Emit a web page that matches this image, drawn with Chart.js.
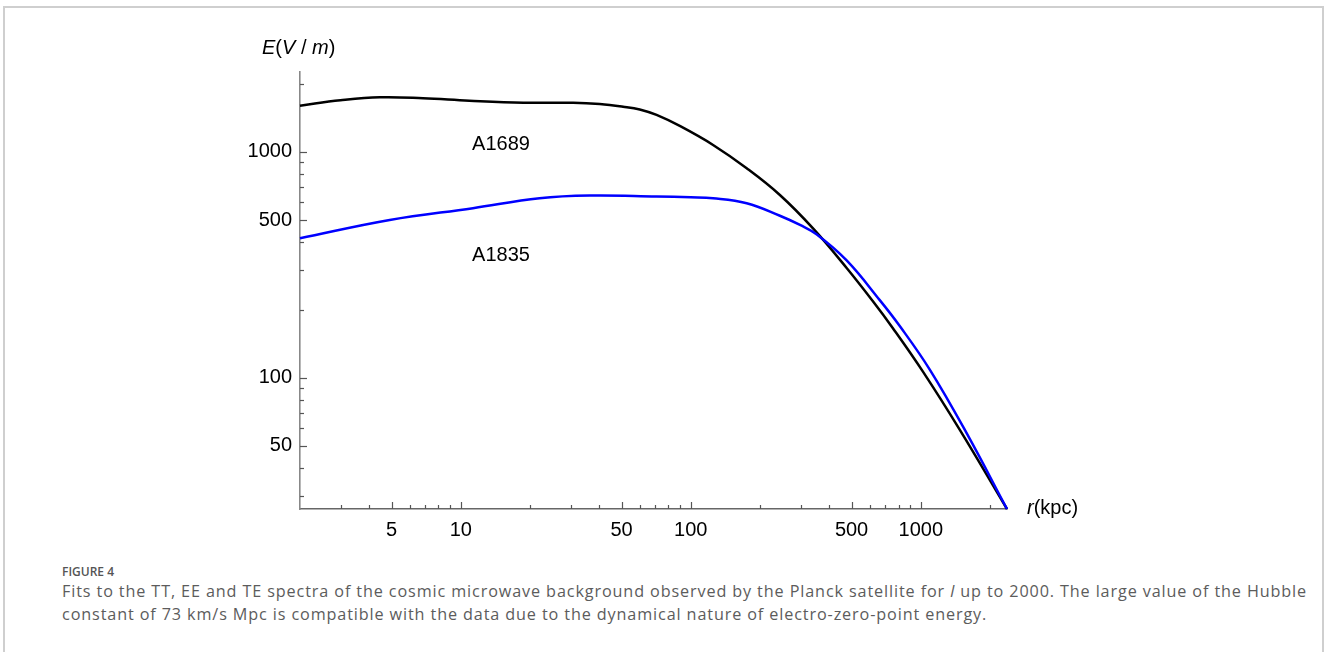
<!DOCTYPE html>
<html>
<head>
<meta charset="utf-8">
<script src="https://cdn.jsdelivr.net/npm/chart.js@4.4.0/dist/chart.umd.min.js"></script>
<style>
  html, body { margin: 0; padding: 0; background: #fff; width: 1327px; height: 652px; overflow: hidden; }
  #frame { position: absolute; left: 3px; top: 6px; width: 1321px; height: 700px; border: 2px solid #cfcfcf; border-bottom: none; box-sizing: border-box; }
  #wrap { position: absolute; left: 0; top: 0; width: 1327px; height: 560px; }
  .cap { position: absolute; left: 62px; white-space: nowrap; font-family: "Open Sans", Lato, sans-serif; color: #5c5c5c; }
  #fig { top: 563px; font-size: 12px; font-weight: 600; color: #555; }
  #l1 { top: 580px; font-size: 16.2px; }
  #l2 { top: 602.5px; font-size: 16.2px; }
</style>
</head>
<body>
<div id="frame"></div>
<div id="wrap"><canvas id="c" width="1327" height="560"></canvas></div>
<div class="cap" id="fig">FIGURE 4</div>
<div class="cap" id="l1">Fits to the TT, EE and TE spectra of the cosmic microwave background observed by the Planck satellite for <i>l</i> up to 2000. The large value of the Hubble</div>
<div class="cap" id="l2">constant of 73 km/s Mpc is compatible with the data due to the dynamical nature of electro-zero-point energy.</div>
<script>
// ---- data ----
const r1689 = [2, 3, 4.45, 6.85, 10.9, 18.7, 30.8, 40.2, 50.8, 60, 71, 90, 125, 175, 244, 340, 476, 618, 755, 1020, 1478, 2370];
const e1689 = [1603, 1692, 1745, 1729, 1686, 1652, 1652, 1630, 1586, 1542, 1458, 1300, 1074, 847, 645, 459, 306.7, 219, 166.4, 106.9, 58.9, 26.3];
const r1835 = [2, 4.91, 11.3, 22, 36.4, 71, 100, 125, 175, 244, 300, 352, 476, 663, 810, 1094, 1580, 2370];
const e1835 = [415, 500, 564, 624, 641, 635, 630, 624, 593, 522, 474, 432, 331, 221, 169.7, 108.9, 57.1, 26.3];
const xMajor = [5, 10, 50, 100, 500, 1000];
const xMinor = [3, 4, 6, 7, 8, 9, 20, 30, 40, 60, 70, 80, 90, 200, 300, 400, 600, 700, 800, 900, 2000];
const yMajor = [50, 100, 500, 1000];
const yMinor = [30, 40, 60, 70, 80, 90, 200, 300, 400, 600, 700, 800, 900, 2000];
const xRange = [2, 2370];
const yRange = [26.3, 2259];
const seriesNames = ["A1835", "A1689"];

const toPts = (xs, ys) => xs.map((x, i) => ({ x: x, y: ys[i] }));
const FONT = "'Liberation Sans', Arial, sans-serif";

const decor = {
  id: 'decor',
  afterDraw(chart) {
    const ctx = chart.ctx, xs = chart.scales.x, ys = chart.scales.y, a = chart.chartArea;
    ctx.save();
    ctx.strokeStyle = '#555';
    ctx.lineWidth = 1.2;
    const vt = (v, len) => { const p = Math.round(xs.getPixelForValue(v)) + 0.5; ctx.beginPath(); ctx.moveTo(p, a.bottom); ctx.lineTo(p, a.bottom - len); ctx.stroke(); };
    const ht = (v, len) => { const p = Math.round(ys.getPixelForValue(v)) + 0.5; ctx.beginPath(); ctx.moveTo(a.left, p); ctx.lineTo(a.left + len, p); ctx.stroke(); };
    xMajor.forEach(v => vt(v, 7)); xMinor.forEach(v => vt(v, 4));
    yMajor.forEach(v => ht(v, 7)); yMinor.forEach(v => ht(v, 4));
    ctx.fillStyle = '#000';
    ctx.textBaseline = 'alphabetic';
    const run = (parts, x, y) => {
      parts.forEach(([t, it]) => { ctx.font = (it ? 'italic ' : '') + '20px ' + FONT; ctx.fillText(t, x, y); x += ctx.measureText(t).width; });
    };
    run([['E', 1], ['(', 0], ['V', 1], [' / ', 0], ['m', 1], [')', 0]], 262, 54);
    run([['r', 1], ['(kpc)', 0]], 1027, 514);
    ctx.font = '20px ' + FONT;
    ctx.textAlign = 'center';
    ctx.fillText(seriesNames[1], 501, 150);
    ctx.fillText(seriesNames[0], 501, 261);
    ctx.restore();
  }
};

new Chart(document.getElementById('c'), {
  type: 'line',
  data: {
    datasets: [
      { label: seriesNames[0], data: toPts(r1835, e1835), borderColor: '#0000ff', borderWidth: 2.5, pointRadius: 0, tension: 0.4, fill: false, clip: 4 },
      { label: seriesNames[1], data: toPts(r1689, e1689), borderColor: '#000000', borderWidth: 2.5, pointRadius: 0, tension: 0.4, fill: false, clip: 4 }
    ]
  },
  options: {
    responsive: false,
    animation: false,
    events: [],
    layout: { padding: { left: 0, top: 72, right: 320, bottom: 0 } },
    plugins: { legend: { display: false }, tooltip: { enabled: false } },
    scales: {
      x: {
        type: 'logarithmic', position: 'bottom', min: xRange[0], max: xRange[1], bounds: 'data',
        grid: { display: false, drawTicks: false },
        border: { display: true, color: '#666', width: 1.6 },
        ticks: { font: { family: FONT, size: 20 }, color: '#000', padding: 9, autoSkip: false, maxRotation: 0, callback: v => String(v) },
        afterBuildTicks: s => { s.ticks = xMajor.map(v => ({ value: v })); },
        afterFit: s => { s.height = 560 - 509; }
      },
      y: {
        type: 'logarithmic', position: 'left', min: yRange[0], max: yRange[1], bounds: 'data',
        grid: { display: false, drawTicks: false },
        border: { display: true, color: '#888', width: 1.6 },
        ticks: { font: { family: FONT, size: 20 }, color: '#000', padding: 8, autoSkip: false, callback: v => String(v) },
        afterBuildTicks: s => { s.ticks = yMajor.map(v => ({ value: v })); },
        afterFit: s => { s.width = 300; }
      }
    }
  },
  plugins: [decor]
});

// fit caption line widths
(function () {
  const l1 = document.getElementById('l1'), l2 = document.getElementById('l2');
  const w = l1.getBoundingClientRect().width;
  const n = l1.textContent.length;
  const ls = (1245 - w) / n;
  l1.style.letterSpacing = ls + 'px';
  l2.style.letterSpacing = ls + 'px';
})();
</script>
</body>
</html>
